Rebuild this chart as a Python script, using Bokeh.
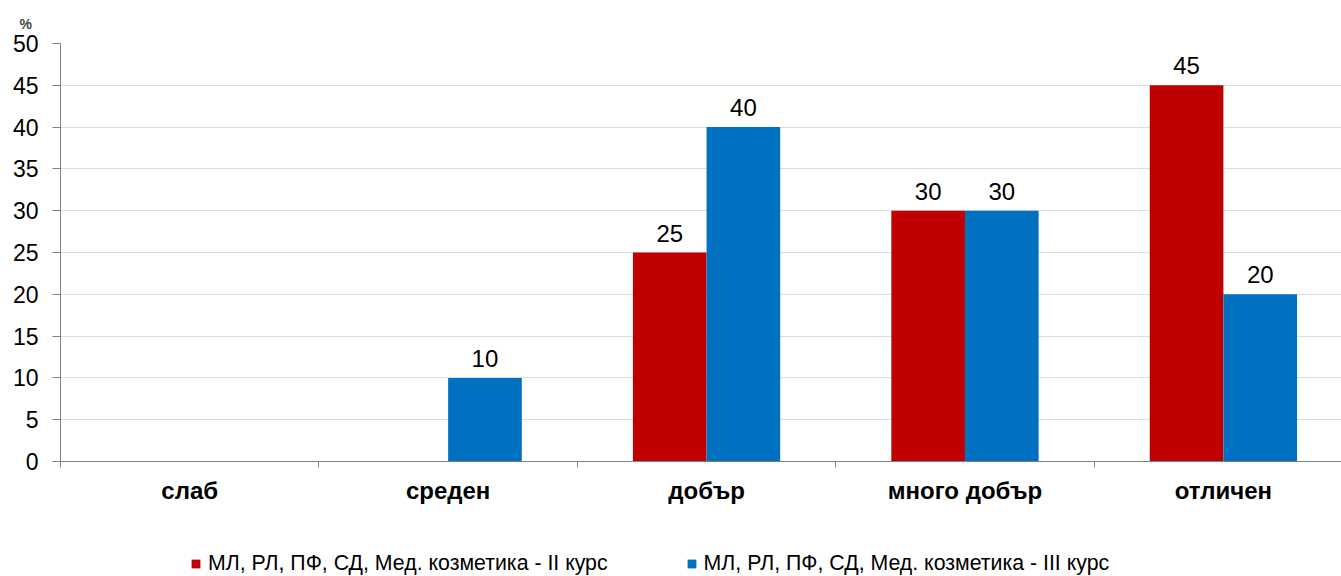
from bokeh.plotting import figure
from bokeh.layouts import column
from bokeh.models import (ColumnDataSource, Range1d, FixedTicker, Legend, LegendItem,
                          LabelSet)
from bokeh.core.properties import value
from bokeh.embed import file_html
from bokeh.resources import INLINE

categories = ["слаб", "среден", "добър", "много добър", "отличен"]
series_names = ["МЛ, РЛ, ПФ, СД, Мед. козметика - II курс",
                "МЛ, РЛ, ПФ, СД, Мед. козметика - III курс"]
values_ii = [0, 0, 25, 30, 45]
values_iii = [0, 10, 40, 30, 20]
y_ticks = [0, 5, 10, 15, 20, 25, 30, 35, 40, 45, 50]

RED = "#C00000"
BLUE = "#0070C0"
FONT = "Liberation Sans"
BAR_W = 0.285

centers = [i + 0.5 for i in range(len(categories))]

p = figure(width=1341, height=548, output_backend="svg", toolbar_location=None,
           x_range=Range1d(0, 4.957), y_range=Range1d(0, 50),
           min_border_left=60, min_border_right=0, min_border_top=43,
           min_border_bottom=87)
p.outline_line_color = None
p.background_fill_color = "white"
p.border_fill_color = "white"

p.title.text = "%"
p.title.align = "left"
p.title.offset = -41
p.title.text_font = FONT
p.title.text_font_size = "14px"
p.title.text_font_style = "bold"
p.title.standoff = 23

src_ii = ColumnDataSource(dict(x=[c - BAR_W / 2 for c in centers], top=values_ii,
                               lab=[str(v) if v else "" for v in values_ii]))
src_iii = ColumnDataSource(dict(x=[c + BAR_W / 2 for c in centers], top=values_iii,
                                lab=[str(v) if v else "" for v in values_iii]))

r1 = p.vbar(x="x", top="top", width=BAR_W, bottom=0, source=src_ii,
            fill_color=RED, line_color=None)
r2 = p.vbar(x="x", top="top", width=BAR_W, bottom=0, source=src_iii,
            fill_color=BLUE, line_color=None)

for src in (src_ii, src_iii):
    p.add_layout(LabelSet(x="x", y="top", text="lab", source=src, y_offset=11,
                          text_align="center", text_baseline="alphabetic",
                          text_font=value(FONT), text_font_size=value("24px"),
                          text_color="#000000"))

# x axis
xa = p.xaxis[0]
xa.ticker = FixedTicker(ticks=centers, minor_ticks=list(range(len(categories) + 1)))
xa.major_label_overrides = {c: categories[i] for i, c in enumerate(centers)}
xa.major_tick_line_color = None
xa.minor_tick_line_color = "#808080"
xa.minor_tick_out = 6
xa.minor_tick_in = 0
xa.axis_line_color = "#808080"
xa.major_label_text_font = FONT
xa.major_label_text_font_style = "bold"
xa.major_label_text_font_size = "24px"
xa.major_label_text_color = "#000000"
xa.major_label_standoff = 9

# y axis
ya = p.yaxis[0]
ya.ticker = FixedTicker(ticks=y_ticks)
ya.minor_tick_line_color = None
ya.major_tick_out = 8
ya.major_tick_in = 0
ya.major_tick_line_color = "#808080"
ya.axis_line_color = "#808080"
ya.major_label_text_font = FONT
ya.major_label_text_font_size = "23px"
ya.major_label_text_color = "#000000"
ya.major_label_standoff = 14

p.xgrid.grid_line_color = None
p.ygrid.ticker = FixedTicker(ticks=y_ticks)
p.ygrid.grid_line_color = "#DDDDDD"
p.ygrid.grid_line_width = 1

# legend strip below the chart (shares the series data; y range keeps bars out of view)
lp = figure(width=1341, height=28, output_backend="svg", toolbar_location=None,
            x_range=Range1d(0, 1), y_range=Range1d(1000, 1001), min_border=0,
            min_border_left=0, min_border_right=0, min_border_top=0,
            min_border_bottom=0)
lp.axis.visible = False
lp.grid.visible = False
lp.outline_line_color = None
lr1 = lp.vbar(x="x", top="top", width=BAR_W, bottom=0, source=src_ii,
              fill_color=RED, line_color=None)
lr2 = lp.vbar(x="x", top="top", width=BAR_W, bottom=0, source=src_iii,
              fill_color=BLUE, line_color=None)
legend = Legend(items=[LegendItem(label=series_names[0], renderers=[lr1]),
                       LegendItem(label=series_names[1], renderers=[lr2])],
                orientation="horizontal", location=(130, 0),
                glyph_width=11, glyph_height=11, label_standoff=7, spacing=78,
                label_text_font=FONT, label_text_font_size="21.3px",
                label_text_color="#000000", border_line_color=None,
                background_fill_alpha=0, margin=0, padding=3)
lp.add_layout(legend, "center")

layout = column(p, lp, spacing=0)
open("out.html", "w").write(file_html(layout, INLINE))
